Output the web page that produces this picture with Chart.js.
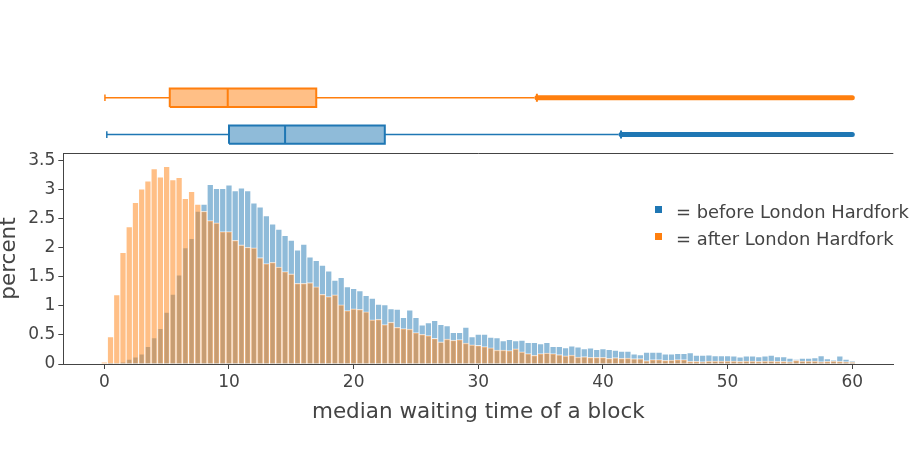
<!DOCTYPE html>
<html>
<head>
<meta charset="utf-8">
<script src="https://cdn.jsdelivr.net/npm/chart.js@4.4.0/dist/chart.umd.min.js"></script>
<style>
  html, body { margin: 0; padding: 0; background: #fff; }
  #wrap { width: 915px; height: 459px; position: relative; }
</style>
</head>
<body>
<div id="wrap"><canvas id="chart"></canvas></div>
<script>
// histogram bins are 0.5 wide, centred on 0, 0.5, 1 ... 60 (histnorm = percent)
const binStart = 0;
const binWidth = 0.5;

const beforePct = [
  0, 0.005, 0.01, 0.03, 0.08, 0.12, 0.17, 0.30, 0.45, 0.61,
  0.89, 1.20, 1.53, 2.00, 2.16, 2.63, 2.75, 3.09, 3.02, 3.02,
  3.08, 2.98, 3.03, 2.98, 2.77, 2.70, 2.55, 2.41, 2.32, 2.21,
  2.13, 1.96, 2.06, 1.84, 1.78, 1.70, 1.60, 1.44, 1.49, 1.33,
  1.30, 1.26, 1.18, 1.13, 1.03, 1.02, 0.95, 0.94, 0.80, 0.93,
  0.80, 0.67, 0.71, 0.75, 0.68, 0.66, 0.54, 0.54, 0.63, 0.47,
  0.51, 0.51, 0.46, 0.45, 0.40, 0.42, 0.40, 0.41, 0.37, 0.37,
  0.35, 0.37, 0.30, 0.30, 0.28, 0.31, 0.29, 0.26, 0.275, 0.25,
  0.26, 0.25, 0.235, 0.22, 0.22, 0.17, 0.16, 0.20, 0.20, 0.20,
  0.17, 0.17, 0.18, 0.18, 0.195, 0.15, 0.15, 0.155, 0.143, 0.143,
  0.143, 0.138, 0.12, 0.138, 0.138, 0.126, 0.138, 0.149, 0.126, 0.126,
  0.098, 0.08, 0.098, 0.098, 0.109, 0.143, 0.092, 0.069, 0.138, 0.08,
  0.052
];

const afterPct = [
  0.034, 0.47, 1.19, 1.92, 2.36, 2.78, 3.01, 3.15, 3.36, 3.22,
  3.40, 3.17, 3.21, 2.85, 2.97, 2.75, 2.63, 2.47, 2.43, 2.28,
  2.28, 2.13, 2.05, 2.01, 2.00, 1.83, 1.73, 1.75, 1.67, 1.59,
  1.55, 1.39, 1.39, 1.40, 1.33, 1.20, 1.16, 1.19, 1.02, 0.92,
  0.95, 0.94, 0.90, 0.76, 0.77, 0.68, 0.72, 0.63, 0.61, 0.60,
  0.54, 0.51, 0.49, 0.44, 0.38, 0.43, 0.41, 0.42, 0.36, 0.33,
  0.32, 0.30, 0.28, 0.24, 0.24, 0.23, 0.26, 0.21, 0.18, 0.15,
  0.18, 0.19, 0.18, 0.16, 0.14, 0.155, 0.12, 0.126, 0.115, 0.115,
  0.115, 0.098, 0.109, 0.098, 0.103, 0.092, 0.092, 0.057, 0.075, 0.075,
  0.063, 0.069, 0.075, 0.075, 0.046, 0.046, 0.040, 0.052, 0.052, 0.052,
  0.052, 0.052, 0.046, 0.052, 0.052, 0.046, 0.052, 0.052, 0.046, 0.046,
  0.040, 0.063, 0.052, 0.052, 0.052, 0.040, 0.046, 0.052, 0.046, 0.040,
  0.029
];

const seriesLabels = ['= before London Hardfork', '= after London Hardfork'];

// box plot statistics, same order as seriesLabels
const boxLow = [0.2, 0.05];
const boxQ1 = [10, 5.25];
const boxMedian = [14.5, 9.9];
const boxQ3 = [22.5, 17];
const boxFence = [41.25, 34.5];
const boxMax = [60, 60];

const xTicks = [0, 10, 20, 30, 40, 50, 60];
const yTicks = [0, 0.5, 1, 1.5, 2, 2.5, 3, 3.5];

const lineColors = ['#1f77b4', '#ff7f0e'];
const fillColors = ['rgba(31,119,180,0.5)', 'rgba(255,127,14,0.5)'];
const textColor = '#444';

Chart.defaults.font.family = '"DejaVu Sans", Verdana, sans-serif';
Chart.defaults.color = textColor;

function histData(values) {
  return values.map(function(v, i) {
    return { x: binStart + i * binWidth, y: v };
  });
}

function seg(points, color, width, extra) {
  return Object.assign({
    type: 'line',
    yAxisID: 'yb',
    data: points,
    borderColor: color,
    borderWidth: width,
    pointRadius: 0,
    tension: 0,
    fill: false,
    order: 0
  }, extra || {});
}

// one horizontal box per series; blue row sits at 1, orange at 2 on the yb scale
function boxDatasets(i) {
  const c = i + 1;
  const h = 0.25;
  const col = lineColors[i];
  return [
    seg([{x: boxMedian[i], y: c - h}, {x: boxMedian[i], y: c + h}], col, 2, {order: -1}),
    seg([
      {x: boxQ1[i], y: c - h}, {x: boxQ3[i], y: c - h},
      {x: boxQ3[i], y: c + h}, {x: boxQ1[i], y: c + h},
      {x: boxQ1[i], y: c - h}
    ], col, 2, {fill: 'shape', backgroundColor: fillColors[i]}),
    seg([{x: boxLow[i], y: c}, {x: boxQ1[i], y: c}], col, 1.5),
    seg([{x: boxLow[i], y: c - 0.09}, {x: boxLow[i], y: c + 0.09}], col, 1.5),
    seg([{x: boxQ3[i], y: c}, {x: boxFence[i], y: c}], col, 1.5),
    seg([{x: boxFence[i] + 0.2, y: c}, {x: boxMax[i], y: c}], col, 5, {
      borderCapStyle: 'round',
      pointStyle: 'line',
      rotation: 90,
      pointRadius: function(ctx) { return ctx.dataIndex === 0 ? 4 : 0; },
      pointBorderWidth: 2,
      pointBorderColor: col
    })
  ];
}

// plotly draws the mirrored top border of the histogram panel
const framePlugin = {
  id: 'frame',
  afterDraw: function(chart) {
    const ctx = chart.ctx;
    const y = Math.round(chart.scales.y.top) + 0.5;
    ctx.save();
    ctx.strokeStyle = textColor;
    ctx.lineWidth = 1;
    ctx.beginPath();
    ctx.moveTo(chart.chartArea.left, y);
    ctx.lineTo(chart.chartArea.right, y);
    ctx.stroke();
    ctx.restore();
  }
};

const legendPlugin = {
  id: 'plotLegend',
  afterDraw: function(chart) {
    const ctx = chart.ctx;
    ctx.save();
    ctx.font = '17.9px "DejaVu Sans", Verdana, sans-serif';
    ctx.textBaseline = 'alphabetic';
    seriesLabels.forEach(function(label, i) {
      const cy = 209.5 + i * 27;
      ctx.fillStyle = lineColors[i];
      ctx.fillRect(655, cy - 3.5, 7, 7);
      ctx.fillStyle = textColor;
      ctx.fillText(label, 676, cy + 8);
    });
    ctx.restore();
  }
};

const datasets = [
  {
    type: 'bar',
    label: seriesLabels[0],
    data: histData(beforePct),
    backgroundColor: fillColors[0],
    borderColor: 'rgba(255,255,255,0.75)',
    borderWidth: 0.8,
    yAxisID: 'y',
    order: 2
  },
  {
    type: 'bar',
    label: seriesLabels[1],
    data: histData(afterPct),
    backgroundColor: fillColors[1],
    borderColor: 'rgba(255,255,255,0.75)',
    borderWidth: 0.8,
    yAxisID: 'y',
    order: 1
  }
].concat(boxDatasets(0), boxDatasets(1));

function plainLabel(v) { return String(v); }

new Chart(document.getElementById('chart'), {
  type: 'bar',
  data: { datasets: datasets },
  options: {
    responsive: true,
    maintainAspectRatio: false,
    animation: false,
    events: [],
    layout: { padding: { top: 79.4, right: 21.7, bottom: 0, left: 0 } },
    datasets: {
      bar: { barPercentage: 1, categoryPercentage: 1, grouped: false }
    },
    plugins: {
      legend: { display: false },
      tooltip: { enabled: false }
    },
    scales: {
      x: {
        type: 'linear',
        offset: false,
        min: -3.29,
        max: 63.29,
        afterBuildTicks: function(s) { s.ticks = xTicks.map(function(v) { return {value: v}; }); },
        afterFit: function(s) { s.height = 95; },
        grid: { offset: false, drawOnChartArea: false, drawTicks: true, tickLength: 5, color: textColor },
        border: { display: true, color: textColor, width: 1 },
        ticks: { font: { size: 17 }, color: textColor, padding: 3, maxRotation: 0, autoSkip: false, callback: plainLabel },
        title: {
          display: true,
          text: 'median waiting time of a block',
          font: { size: 21.5 },
          color: textColor,
          padding: { top: 0, bottom: 34 }
        }
      },
      y: {
        type: 'linear',
        position: 'left',
        stack: 'panels',
        stackWeight: 211,
        weight: 0,
        min: 0,
        max: 3.632,
        afterBuildTicks: function(s) { s.ticks = yTicks.map(function(v) { return {value: v}; }); },
        afterFit: function(s) { s.width = 63.3; },
        grid: { drawOnChartArea: false, drawTicks: true, tickLength: 5, color: textColor },
        border: { display: true, color: textColor, width: 1 },
        ticks: { font: { size: 17 }, color: textColor, padding: 3, autoSkip: false, callback: plainLabel },
        title: {
          display: true,
          text: 'percent',
          font: { size: 21.5, lineHeight: 0.84 },
          color: textColor,
          padding: 0
        }
      },
      yb: {
        type: 'linear',
        position: 'left',
        stack: 'panels',
        stackWeight: 73.6,
        weight: 1,
        min: 0.5,
        max: 2.5,
        grid: { display: false },
        border: { display: false },
        ticks: { display: false }
      }
    }
  },
  plugins: [framePlugin, legendPlugin]
});
</script>
</body>
</html>
